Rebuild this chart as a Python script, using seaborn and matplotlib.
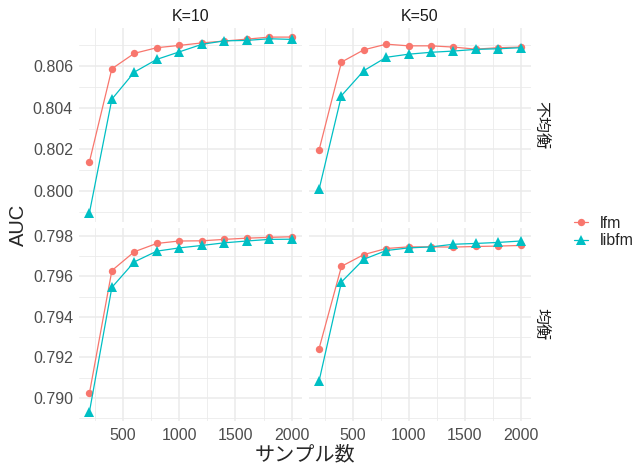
import numpy as np
import pandas as pd
import matplotlib
matplotlib.use("Agg")
import matplotlib.pyplot as plt
import seaborn as sns
from matplotlib.ticker import MultipleLocator, FormatStrFormatter

# sample sizes (x axis)
sizes = [200, 400, 600, 800, 1000, 1200, 1400, 1600, 1800, 2000]
k_labels = ["K=10", "K=50"]
balance_labels = ["不均衡", "均衡"]
models = ["lfm", "libfm"]

# AUC values
lfm_k10_imb = [0.8014, 0.80587, 0.80661, 0.80688, 0.80699, 0.80711, 0.80720, 0.80729, 0.80739, 0.80739]
libfm_k10_imb = [0.79895, 0.80441, 0.80571, 0.80632, 0.80668, 0.80704, 0.80721, 0.80723, 0.80731, 0.80728]
lfm_k50_imb = [0.80197, 0.80619, 0.80678, 0.80705, 0.80697, 0.80697, 0.80691, 0.80681, 0.80688, 0.80691]
libfm_k50_imb = [0.80008, 0.80458, 0.80578, 0.80642, 0.80657, 0.80666, 0.80672, 0.80680, 0.80683, 0.80688]
lfm_k10_bal = [0.79022, 0.79628, 0.79721, 0.79762, 0.79774, 0.79775, 0.79782, 0.79788, 0.79792, 0.79795]
libfm_k10_bal = [0.7893, 0.79545, 0.79671, 0.79724, 0.79740, 0.79752, 0.79765, 0.79774, 0.79782, 0.79783]
lfm_k50_bal = [0.79243, 0.79649, 0.79707, 0.79737, 0.79745, 0.79745, 0.79744, 0.79747, 0.79749, 0.79752]
libfm_k50_bal = [0.79083, 0.79572, 0.79684, 0.79727, 0.79740, 0.79745, 0.79758, 0.79762, 0.79767, 0.79774]

series = {
    ("K=10", "不均衡", "lfm"): lfm_k10_imb,
    ("K=10", "不均衡", "libfm"): libfm_k10_imb,
    ("K=50", "不均衡", "lfm"): lfm_k50_imb,
    ("K=50", "不均衡", "libfm"): libfm_k50_imb,
    ("K=10", "均衡", "lfm"): lfm_k10_bal,
    ("K=10", "均衡", "libfm"): libfm_k10_bal,
    ("K=50", "均衡", "lfm"): lfm_k50_bal,
    ("K=50", "均衡", "libfm"): libfm_k50_bal,
}

rows = []
for (k, bal, m), vals in series.items():
    for n, v in zip(sizes, vals):
        rows.append({"K": k, "balance": bal, "model": m, "n": n, "AUC": v})
df = pd.DataFrame(rows)

sns.set_style("white")
plt.rcParams['font.family'] = ['Liberation Sans', 'Noto Sans CJK JP']

palette = {"lfm": "#F8766D", "libfm": "#00BFC4"}
markers = {"lfm": "o", "libfm": "^"}
grid_col = "#EBEBEB"

W, H = 638, 470
fig = plt.figure(figsize=(W / 100, H / 100), dpi=100)

# panel boxes in pixels: (left, right) / (top, bottom)
col_x = [(79.3, 301.7), (309.0, 530.7)]
row_y = [(28.3, 221.7), (228.0, 420.7)]

axes = {}
for r, bal in enumerate(balance_labels):
    sub = df[df["balance"] == bal]
    lo, hi = sub["AUC"].min(), sub["AUC"].max()
    pad = (hi - lo) * 0.05
    for c, k in enumerate(k_labels):
        x0, x1 = col_x[c]
        y0, y1 = row_y[r]
        ax = fig.add_axes([x0 / W, 1 - y1 / H, (x1 - x0) / W, (y1 - y0) / H])
        axes[(r, c)] = ax
        d = sub[sub["K"] == k]
        sns.lineplot(data=d, x="n", y="AUC", hue="model", style="model",
                     hue_order=models, style_order=models,
                     palette=palette, markers=markers, dashes=False,
                     markersize=5.3, markeredgewidth=0, linewidth=0.9,
                     legend=(r == 0 and c == 0), ax=ax)
        # triangles look a bit bigger than the dots in the original
        for ln in ax.get_lines():
            if ln.get_marker() == "^":
                ln.set_markersize(6.6)
        ax.set_xlim(110, 2090)
        ax.set_ylim(lo - pad, hi + pad)
        ax.xaxis.set_major_locator(MultipleLocator(500))
        ax.xaxis.set_minor_locator(MultipleLocator(250))
        ax.yaxis.set_major_locator(MultipleLocator(0.002))
        ax.yaxis.set_minor_locator(MultipleLocator(0.001))
        ax.yaxis.set_major_formatter(FormatStrFormatter('%.3f'))
        ax.grid(which="major", color=grid_col, linewidth=1.1)
        ax.grid(which="minor", color=grid_col, linewidth=0.6)
        ax.set_axisbelow(True)
        for s in ax.spines.values():
            s.set_visible(False)
        ax.tick_params(which="both", length=0, labelsize=11.5, labelcolor="#4D4D4D")
        ax.tick_params(axis="y", pad=4.5)
        ax.tick_params(axis="x", pad=5)
        ax.set_xlabel("")
        ax.set_ylabel("")
        if c == 1:
            ax.set_yticklabels([])
        if r == 0:
            ax.set_xticklabels([])
            ax.set_title(k, fontsize=11.5, color="#1A1A1A", pad=5)
        if c == 1:
            ax.text(1.045, 0.5, bal, transform=ax.transAxes, rotation=-90,
                    ha="center", va="center", fontsize=11.5, color="#1A1A1A")

# shared legend
leg_ax = axes[(0, 0)]
handles, labels = leg_ax.get_legend_handles_labels()
leg_ax.get_legend().remove()
for h in handles:
    if h.get_marker() == "^":
        h.set_markersize(6.6)
fig.legend(handles, labels, loc="center left", bbox_to_anchor=(574 / W, 1 - 232 / H),
           frameon=False, fontsize=11.5, handlelength=0.9, handletextpad=0.7,
           labelspacing=0.15, borderpad=0, borderaxespad=0)

fig.text(18 / W, 1 - 225 / H, "AUC", rotation=90, ha="center", va="center", fontsize=14.5)
fig.text(305 / W, 1 - 455 / H, "サンプル数", ha="center", va="center", fontsize=14.5)

fig.savefig("out.png", dpi=100, facecolor="white")
